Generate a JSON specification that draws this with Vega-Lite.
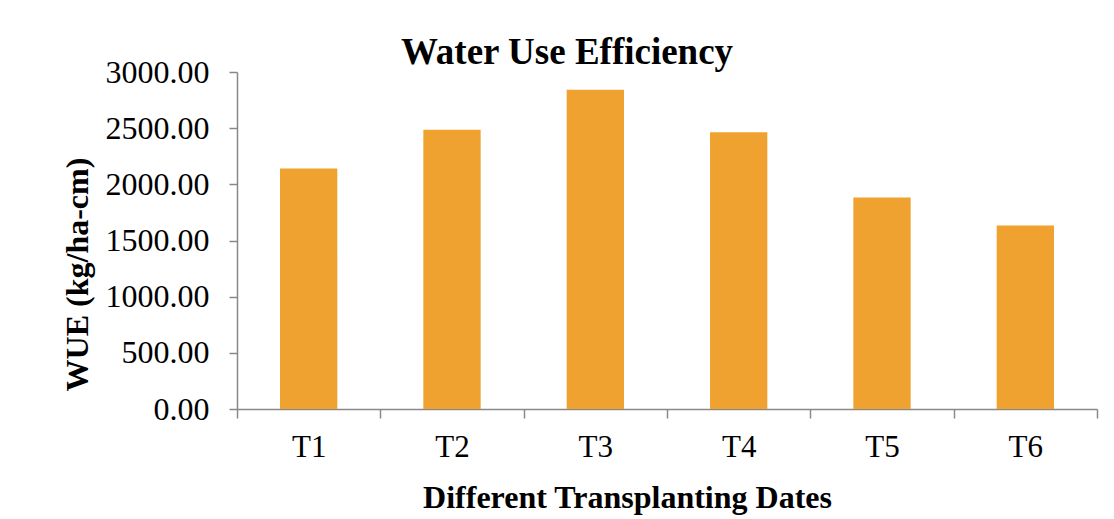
{
  "$schema": "https://vega.github.io/schema/vega-lite/v6.json",
  "autosize": "none",
  "width": 860,
  "height": 337,
  "padding": {"left": 237, "top": 72, "right": 17, "bottom": 110},
  "background": "white",
  "title": {
    "text": "Water Use Efficiency",
    "font": "Liberation Serif",
    "fontSize": 37,
    "fontWeight": "bold",
    "color": "black",
    "anchor": "middle",
    "frame": "group",
    "dx": -100,
    "dy": 45,
    "baseline": "alphabetic",
    "offset": 0
  },
  "data": {
    "values": [
      {"date": "T1", "wue": 2140},
      {"date": "T2", "wue": 2487},
      {"date": "T3", "wue": 2843},
      {"date": "T4", "wue": 2463},
      {"date": "T5", "wue": 1882},
      {"date": "T6", "wue": 1633}
    ]
  },
  "mark": {"type": "bar", "color": "#EFA230", "width": {"band": 0.4}},
  "encoding": {
    "x": {
      "field": "date",
      "type": "nominal",
      "sort": null,
      "scale": {"paddingInner": 0, "paddingOuter": 0},
      "axis": {
        "title": "Different Transplanting Dates",
        "labelAngle": 0,
        "tickBand": "extent",
        "tickSize": 9,
        "labelPadding": 14,
        "labelFontSize": 31,
        "titleFontSize": 32,
        "titleX": 390,
        "titleY": 98,
        "titleBaseline": "alphabetic",
        "titleAlign": "center"
      }
    },
    "y": {
      "field": "wue",
      "type": "quantitative",
      "scale": {"domain": [0, 3000], "nice": false},
      "axis": {
        "title": "WUE (kg/ha-cm)",
        "values": [0, 500, 1000, 1500, 2000, 2500, 3000],
        "format": ".2f",
        "tickSize": 8,
        "labelPadding": 20,
        "labelFontSize": 32,
        "titleFontSize": 32,
        "titleAngle": 270,
        "titleX": -150,
        "titleY": 202,
        "titleBaseline": "alphabetic",
        "titleAlign": "center"
      }
    }
  },
  "config": {
    "view": {"stroke": null},
    "axis": {
      "grid": false,
      "domainColor": "#898989",
      "domainWidth": 1.5,
      "tickColor": "#898989",
      "tickWidth": 1.5,
      "labelFont": "Liberation Serif",
      "labelColor": "black",
      "titleFont": "Liberation Serif",
      "titleFontWeight": "bold",
      "titleColor": "black"
    }
  }
}
